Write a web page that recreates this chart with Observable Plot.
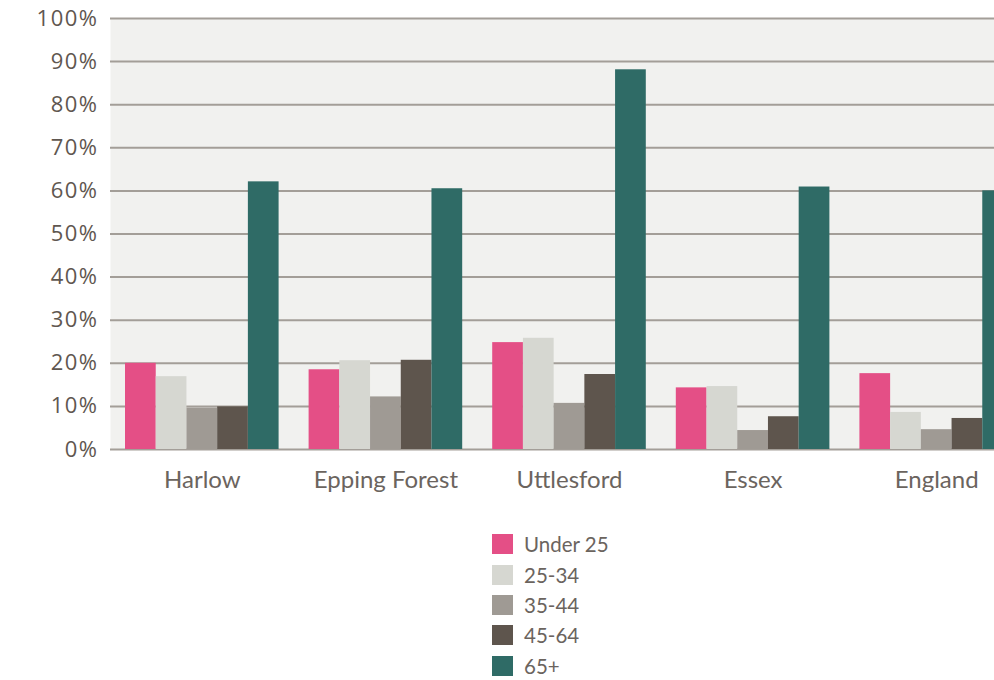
<!DOCTYPE html>
<html>
<head>
<meta charset="utf-8">
<script src="https://cdn.jsdelivr.net/npm/d3@7"></script>
<script src="https://cdn.jsdelivr.net/npm/@observablehq/plot@0.6"></script>
<style>
  html, body { margin: 0; padding: 0; background: #fff; overflow: hidden; width: 994px; height: 680px; }
  #chart { width: 994px; overflow: hidden; }
  #chart svg { max-width: none !important; display: block; }
  #legend { margin-left: 492px; margin-top: 29px; font-family: Lato, "Open Sans", sans-serif; font-size: 20.5px; color: #6b645e; }
  .row { display: flex; align-items: center; height: 30.4px; }
  .sw { width: 21px; height: 20px; margin-right: 11px; }
  .ylab text { letter-spacing: 1.5px; }
</style>
</head>
<body>
<div id="chart"></div>
<div id="legend"></div>
<script>
const groups = ["Harlow", "Epping Forest", "Uttlesford", "Essex", "England"];
const series = ["Under 25", "25-34", "35-44", "45-64", "65+"];
const under25 = [20.0, 18.5, 24.8, 14.3, 17.6];
const age25_34 = [16.9, 20.6, 25.8, 14.6, 8.6];
const age35_44 = [9.6, 12.2, 10.7, 4.4, 4.6];
const age45_64 = [9.9, 20.7, 17.4, 7.6, 7.2];
const age65plus = [62.1, 60.5, 88.1, 60.9, 60.0];
const yTicks = [0, 10, 20, 30, 40, 50, 60, 70, 80, 90, 100];
const colors = ["#e44f86", "#d6d7d1", "#9f9a94", "#5e554d", "#2f6b66"];

const seriesValues = [under25, age25_34, age35_44, age45_64, age65plus];
const groupBand = 0.8365;
const barW = groupBand / series.length;
const data = [];
groups.forEach((g, gi) => {
  series.forEach((s, si) => {
    data.push({
      group: g, series: s, value: seriesValues[si][gi],
      x1: gi - groupBand / 2 + si * barW,
      x2: gi - groupBand / 2 + (si + 1) * barW
    });
  });
});

const plot = Plot.plot({
  width: 1028,
  height: 500,
  marginLeft: 110,
  marginRight: 0,
  marginTop: 18,
  marginBottom: 51,
  style: { fontFamily: "'Open Sans', Lato, sans-serif", background: "transparent", overflow: "visible", maxWidth: "none" },
  x: { type: "linear", domain: [-0.5, groups.length - 0.5] },
  y: { domain: [0, 100] },
  color: { domain: series, range: colors },
  marks: [
    Plot.frame({ fill: "#f1f1ef", stroke: null }),
    Plot.ruleY(yTicks, { stroke: "#a39e98", strokeWidth: 2 }),
    Plot.rectY(data, { x1: "x1", x2: "x2", y: "value", fill: "series" }),
    Plot.axisY({ ticks: yTicks, tickSize: 0, tickPadding: 12, tickFormat: d => d + "%", fontSize: 22, fill: "#5f5750", className: "ylab", label: null }),
    Plot.axisX({ ticks: d3.range(groups.length), tickSize: 0, tickPadding: 21, tickFormat: i => groups[i], fontSize: 24, fontFamily: "Lato, sans-serif", fill: "#6b645e", label: null })
  ]
});
document.getElementById("chart").appendChild(plot);

const legend = document.getElementById("legend");
series.forEach((s, i) => {
  const row = document.createElement("div");
  row.className = "row";
  row.innerHTML = `<div class="sw" style="background:${colors[i]}"></div><span>${s}</span>`;
  legend.appendChild(row);
});
</script>
</body>
</html>
